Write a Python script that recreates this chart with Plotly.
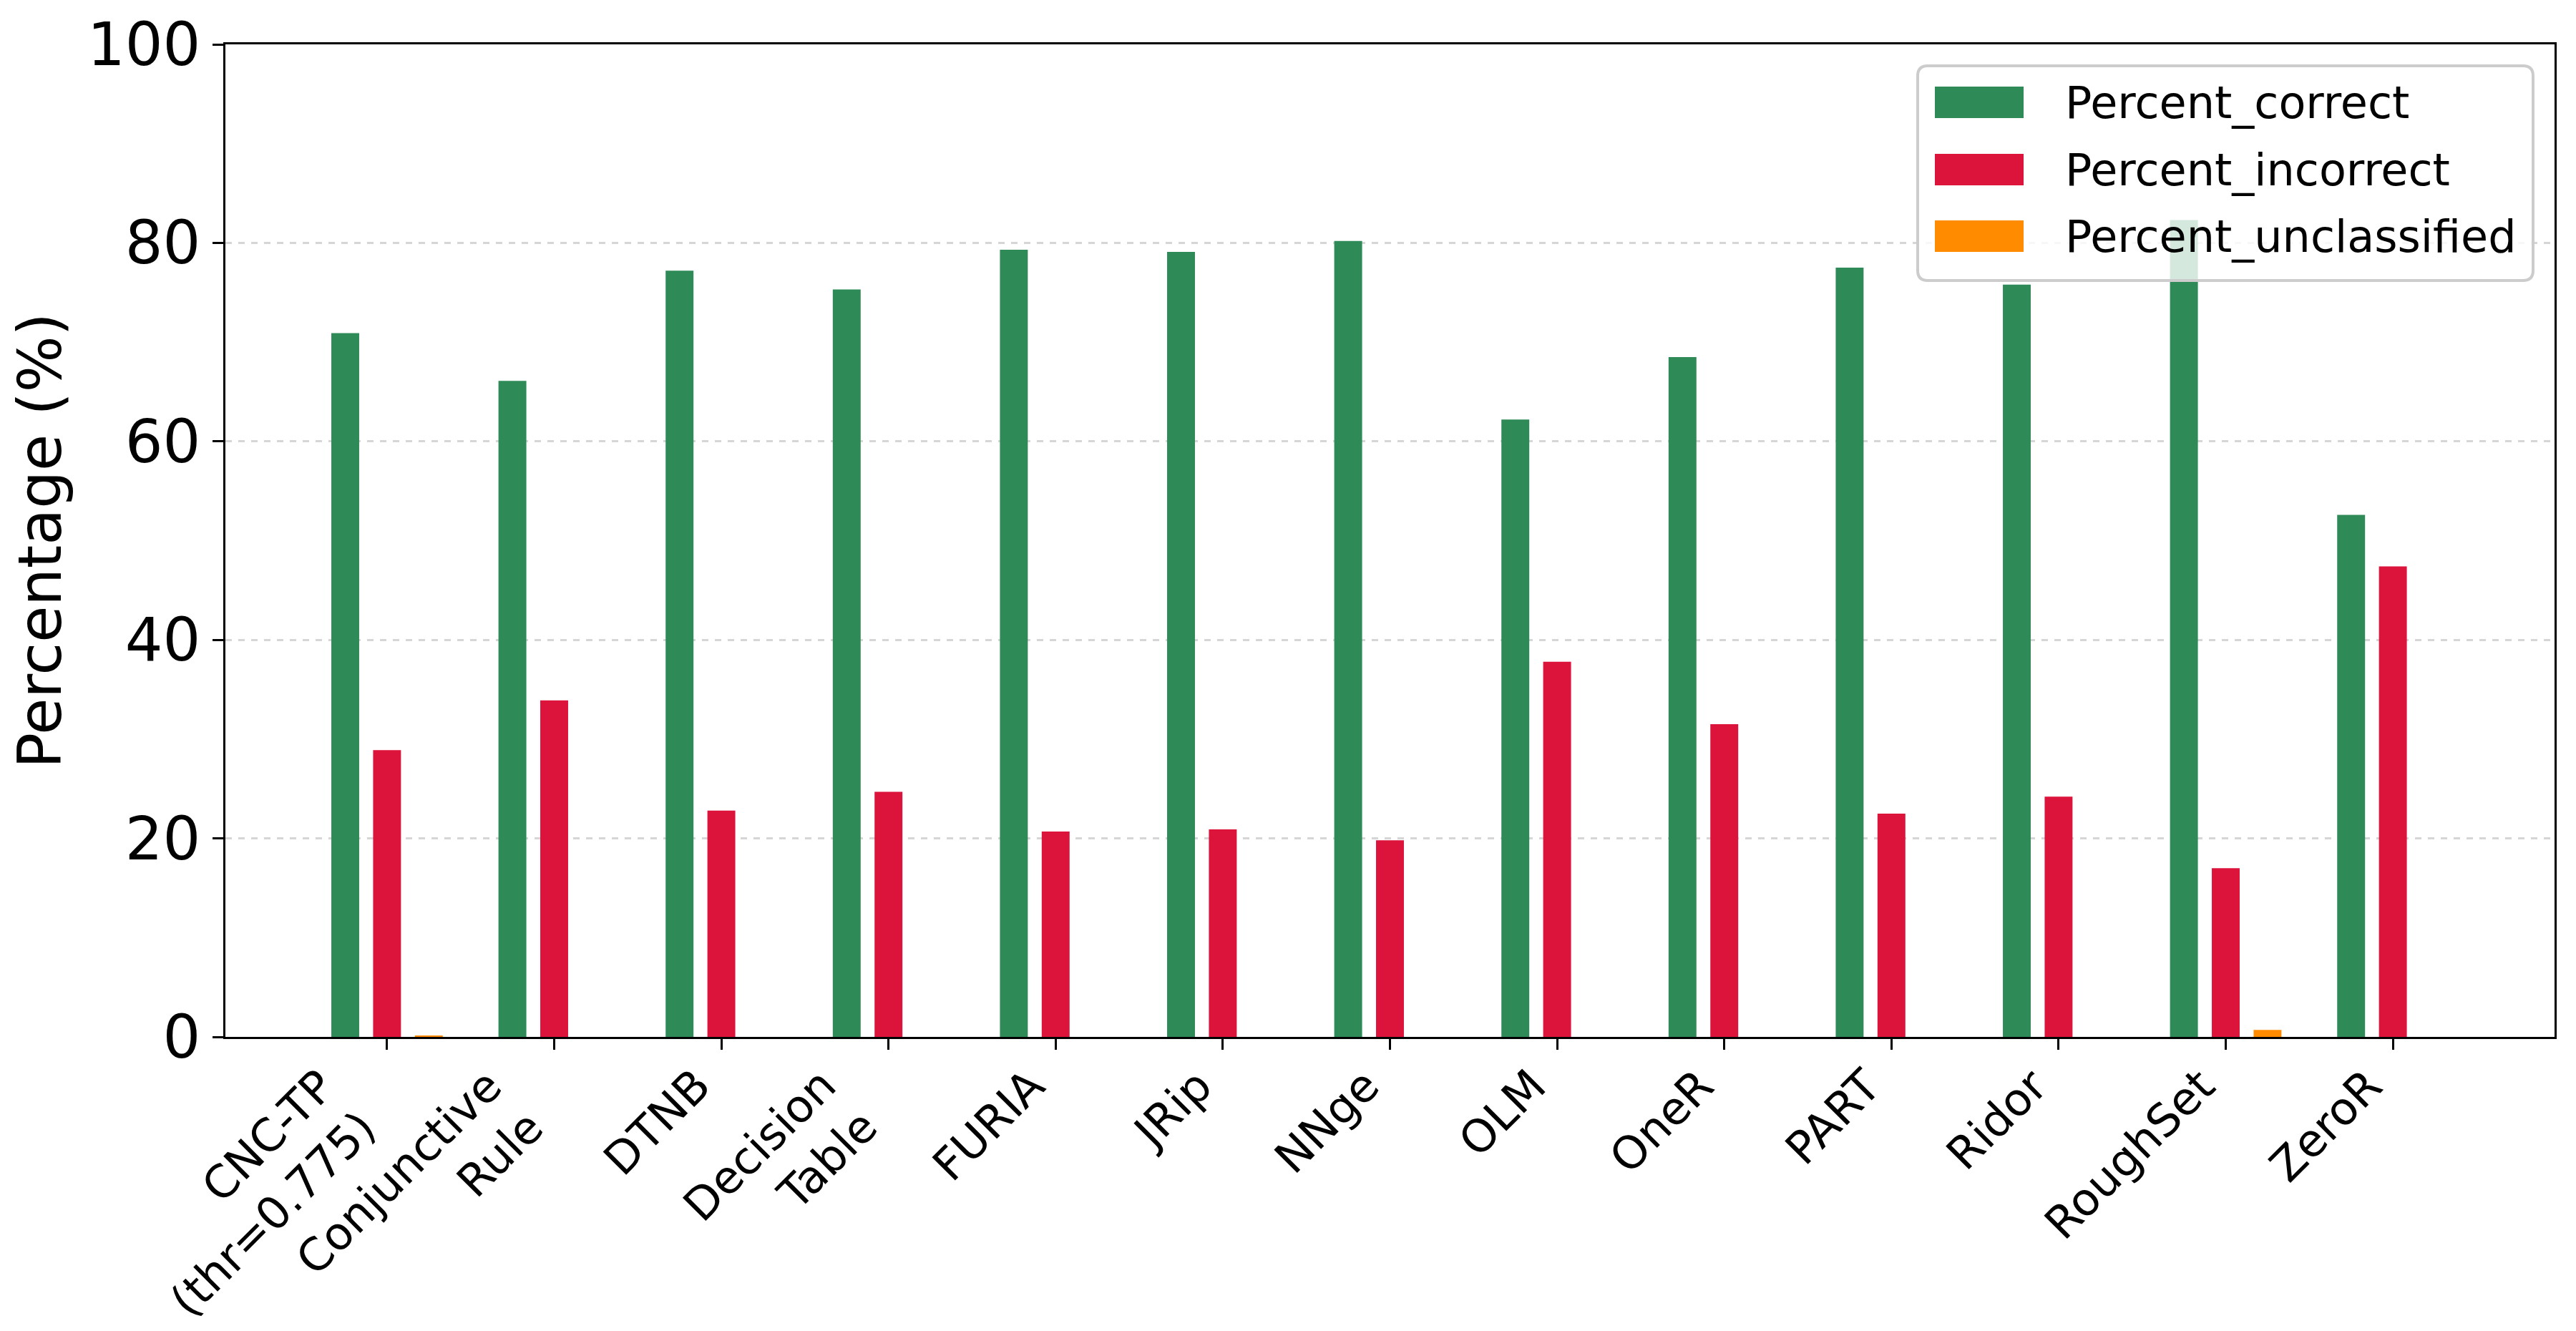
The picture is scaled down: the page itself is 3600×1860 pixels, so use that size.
import plotly.graph_objects as go

categories = ["CNC-TP<br>(thr=0.775)", "Conjunctive<br>Rule", "DTNB", "Decision<br>Table", "FURIA", "JRip",
              "NNge", "OLM", "OneR", "PART", "Ridor", "RoughSet", "ZeroR"]
percent_correct = [70.9, 66.1, 77.2, 75.3, 79.3, 79.1, 80.2, 62.2, 68.5, 77.5, 75.8, 82.3, 52.6]
percent_incorrect = [28.9, 33.9, 22.8, 24.7, 20.7, 20.9, 19.8, 37.8, 31.5, 22.5, 24.2, 17.0, 47.4]
percent_unclassified = [0.15, 0, 0, 0, 0, 0, 0, 0, 0, 0, 0, 0.7, 0]
series_names = ["Percent_correct", "Percent_incorrect", "Percent_unclassified"]
series_values = [percent_correct, percent_incorrect, percent_unclassified]
colors = ["#2E8B57", "#DC143C", "#FF8C00"]
y_ticks = [0, 20, 40, 60, 80, 100]

# page body has an 8px default margin; compensate so the plot lands where the reference has it
OFF = 8
W, H = 3600 - 2 * OFF, 1860 - 2 * OFF
PLOT_L, PLOT_T, PLOT_R, PLOT_B = 315, 62, 3570, 1449   # screen pixels
PW, PH = PLOT_R - PLOT_L, PLOT_B - PLOT_T
ML, MT = PLOT_L - OFF, PLOT_T - OFF
MR, MB = W - ML - PW, H - MT - PH
FONT = "DejaVu Sans"
idx = list(range(len(categories)))

fig = go.Figure()
for name, vals, col in zip(series_names, series_values, colors):
    fig.add_trace(go.Bar(x=idx, y=vals, name=name,
                         marker=dict(color=col, line=dict(width=0)), showlegend=False))

fig.update_layout(
    width=W, height=H,
    margin=dict(l=ML, r=MR, t=MT, b=MB, autoexpand=False),
    paper_bgcolor="white", plot_bgcolor="white",
    barmode="group", bargap=0.25, bargroupgap=0.333,
    font=dict(family=FONT, color="black"),
)
fig.update_xaxes(
    tickmode="array", tickvals=idx, ticktext=categories, showticklabels=False,
    range=[-0.967, len(categories) - 1 + 0.967],
    showline=True, linecolor="black", linewidth=3, mirror=True,
    ticks="outside", ticklen=15, tickwidth=3, tickcolor="black",
    showgrid=False, zeroline=False, automargin=False,
)
fig.update_yaxes(
    range=[0, 100], tickmode="array", tickvals=y_ticks,
    tickfont=dict(size=83, family=FONT),
    title=dict(text="Percentage (%)", font=dict(size=83, family=FONT), standoff=20),
    showline=True, linecolor="black", linewidth=3, mirror=True,
    ticks="outside", ticklen=15, tickwidth=3, tickcolor="black",
    showgrid=True, gridcolor="#d6d6d6", gridwidth=2.5, griddash="dash",
    zeroline=False, automargin=False,
)

# rotated category labels (right-aligned like matplotlib ha='right', rotation=45)
for i, lab in zip(idx, categories):
    fig.add_annotation(x=i, y=-30 / PH, xref="x", yref="paper", text=lab,
                       showarrow=False, xanchor="right", yanchor="top", textangle=-45,
                       align="right", borderpad=0,
                       font=dict(size=63, family=FONT, color="black"))

# legend drawn manually (matplotlib-style wide patches)
def px_x(px):
    return (px - PLOT_L) / PW

def px_y(py):
    return (PLOT_B - py) / PH

lx0, lx1, ly0, ly1, r = 2680, 3540, 92, 392, 14
rx, ry = r / PW, r / PH
x0, x1, y0, y1 = px_x(lx0), px_x(lx1), px_y(ly1), px_y(ly0)
path = (f"M{x0+rx},{y0} L{x1-rx},{y0} Q{x1},{y0} {x1},{y0+ry} L{x1},{y1-ry} Q{x1},{y1} {x1-rx},{y1} "
        f"L{x0+rx},{y1} Q{x0},{y1} {x0},{y1-ry} L{x0},{y0+ry} Q{x0},{y0} {x0+rx},{y0} Z")
fig.add_shape(type="path", path=path, xref="paper", yref="paper", layer="above",
              fillcolor="rgba(255,255,255,0.8)", line=dict(color="#cccccc", width=4))
row_centers = [143, 237, 330]
for name, col, cy in zip(series_names, colors, row_centers):
    fig.add_shape(type="rect", xref="paper", yref="paper", layer="above",
                  x0=px_x(2704), x1=px_x(2828), y0=px_y(cy + 22), y1=px_y(cy - 22),
                  fillcolor=col, line=dict(width=0))
    fig.add_annotation(x=px_x(2884), y=px_y(cy), xref="paper", yref="paper", text=name,
                       showarrow=False, xanchor="left", yanchor="middle",
                       font=dict(size=62, family=FONT, color="black"))

fig.write_html("out.html")
